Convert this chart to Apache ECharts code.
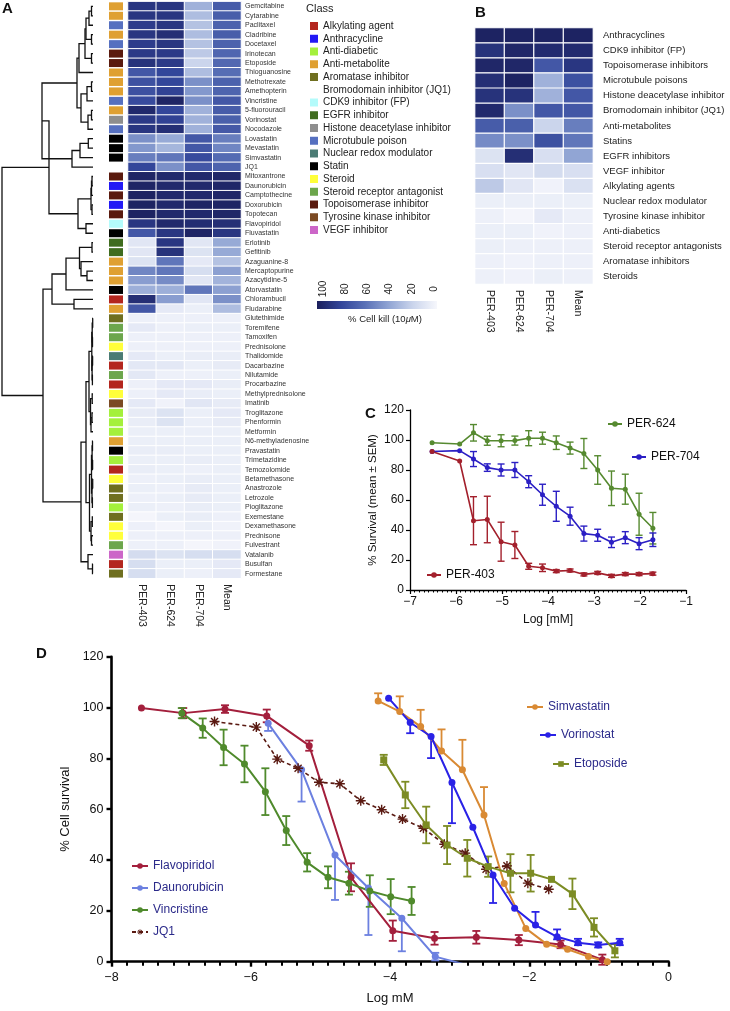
<!DOCTYPE html>
<html>
<head>
<meta charset="utf-8">
<script src="https://cdn.jsdelivr.net/npm/echarts@6/dist/echarts.min.js"></script>
<style>
html, body { margin: 0; padding: 0; background: #fff; }
#chart { width: 730px; height: 1011px; }
</style>
</head>
<body>
<div id="chart"></div>
<script>
// ---- panel A: drugs, classes, % cell kill ----
var drugs = ['Gemcitabine','Cytarabine','Paclitaxel','Cladribine','Docetaxel','Irinotecan','Etoposide','Thioguanosine',
    'Methotrexate','Amethopterin','Vincristine','5-fluorouracil','Vorinostat','Nocodazole','Lovastatin','Mevastatin',
    'Simvastatin','JQ1','Mitoxantrone','Daunorubicin','Camptothecine','Doxorubicin','Topotecan','Flavopiridol',
    'Fluvastatin','Erlotinib','Gefitinib','Azaguanine-8','Mercaptopurine','Azacytidine-5','Atorvastatin','Chlorambucil',
    'Fludarabine','Glutethimide','Toremifene','Tamoxifen','Prednisolone','Thalidomide','Dacarbazine','Nilutamide',
    'Procarbazine','Methylprednisolone','Imatinib','Troglitazone','Phenformin','Metformin','N6-methyladenosine',
    'Pravastatin','Trimetazidine','Temozolomide','Betamethasone','Anastrozole','Letrozole','Pioglitazone',
    'Exemestane','Dexamethasone','Prednisone','Fulvestrant','Vatalanib','Busulfan','Formestane'];
var classNames = ['Alkylating agent','Anthracycline','Anti-diabetic','Anti-metabolite','Aromatase inhibitor',
    'Bromodomain inhibitor (JQ1)','CDK9 inhibitor (FP)','EGFR inhibitor','Histone deacetylase inhibitor',
    'Microtubule poison','Nuclear redox modulator','Statin','Steroid','Steroid receptor antagonist',
    'Topoisomerase inhibitor','Tyrosine kinase inhibitor','VEGF inhibitor'];
var classColors = ['#b3261e','#2219f5','#a4f03c','#dfa032','#6f6f20','#ffffff','#b4fbfb','#3f6c1f','#8e8e8e',
    '#5670c0','#4b7b74','#000000','#ffff3a','#6ca64c','#5a1a0e','#7b4a23','#cc66c8'];
var drugClass = [3,3,9,3,9,14,14,3,3,3,9,3,8,9,11,11,11,5,14,1,14,1,14,6,11,7,7,3,3,3,11,0,3,
    4,13,13,12,10,0,13,0,12,15,2,2,2,3,11,2,0,12,4,4,2,4,12,12,13,16,0,4];
var colNames = ['PER-403','PER-624','PER-704','Mean'];
var killA403 = [88,88,85,88,85,86,90,72,75,75,78,95,86,88,48,45,55,80,97,97,98,98,98,88,72,10,10,12,52,43,36,92,72,
    4,8,4,4,8,9,9,4,4,8,7,6,5,5,6,5,6,4,5,4,5,1,4,4,4,16,15,15];
var killA624 = [88,88,88,92,88,86,86,80,80,82,97,80,82,92,38,33,58,48,95,95,95,95,95,95,88,88,90,58,58,50,36,43,8,
    4,4,4,4,5,9,4,8,8,3,12,12,5,5,6,5,5,5,4,5,4,5,1,4,4,12,5,5];
var killA704 = [35,30,28,30,28,25,20,30,48,45,48,35,35,35,72,72,78,72,95,95,95,97,95,93,97,10,12,8,15,10,58,10,5,
    4,5,4,4,6,5,4,8,6,10,5,5,5,5,5,6,4,6,7,7,6,6,5,4,1,15,5,4];
var killAMean = [70,69,67,69,67,65,64,62,67,66,72,70,68,71,55,52,63,66,96,96,96,97,96,92,88,38,38,28,42,34,42,48,30,
    4,5,4,4,6,7,5,6,5,7,8,7,5,5,5,5,5,5,5,5,5,4,3,4,3,15,8,8];

// dendrogram: [height, left, right], leaves are row numbers
var dendro = [91,
    [44,
        [51,
            [16,
                [14, [8, [7, [4, [1.5, 0, 1], 2], [1.5, 3, 4]], [1.5, 5, 6]], 7],
                [12, [6, [1.5, 8, 9], 10], [5, [1.5, 11, 12], 13]]],
            [21, [13, [4.7, 14, 15], 16], 17]],
        [15, [2, [1.5, [1, 18, 19], 20], [1, 21, 22]], [7, 23, 24]]],
    [50,
        [41, [27, [13.5, [1, 25, 26], [12, 27, [6, 28, 29]]], 30], [19, 31, 32]],
        [12,
            [7,
                [4, [1.2, [0.8, [0.3, 33, 34], [0.5, 35, 36]], [0.9, [0.4, 37, 38], [0.6, 39, 40]]],
                    [2.5, [0.8, 41, 42], [2, [1, 43, 44], 45]]],
                [3.5, [1.5, [0.9, [0.5, 46, 47], [0.4, 48, 49]], [1, [0.3, 50, 51], [0.6, 52, 53]]],
                    [2, [0.7, 54, 55], [1.5, 56, 57]]]],
            [5, 58, [0.5, 59, 60]]]]];

// ---- panel B ----
var groupsB = ['Anthracyclines','CDK9 inhibitor (FP)','Topoisomerase inhibitors','Microtubule poisons',
    'Histone deacetylase inhibitor','Bromodomain inhibitor (JQ1)','Anti-metabolites','Statins','EGFR inhibitors',
    'VEGF inhibitor','Alkylating agents','Nuclear redox modulator','Tyrosine kinase inhibitor','Anti-diabetics',
    'Steroid receptor antagonists','Aromatase inhibitors','Steroids'];
var killB403 = [98,90,96,92,90,95,70,50,12,14,25,5,4,5,5,4,4];
var killB624 = [98,96,96,98,90,48,68,48,92,10,10,5,1,5,4,3,3];
var killB704 = [98,94,72,35,35,72,20,75,14,16,3,5,8,3,4,4,5];
var killBMean = [98,94,88,75,72,72,55,58,40,14,13,5,4,4,4,4,4];

var colorStops = ['#f6f7fc','#cbd5ec','#91a5d4','#5a71b7','#33469a','#1b1f5c'];
var cbTicks = [100, 80, 60, 40, 20, 0];

// ---- panel C ----
var cLog = [-6.52,-5.92,-5.62,-5.32,-5.02,-4.72,-4.42,-4.12,-3.82,-3.52,-3.22,-2.92,-2.62,-2.32,-2.02,-1.72];
var c624 = [98.2,97.3,104.8,99.5,99.5,99.6,101.2,101.2,98.2,94.6,91,80,67.8,67.2,50.5,41.2];
var e624 = [0,0,5.5,3,4,3,5,4,4.5,4,10,9.5,11.5,10,14,10.5];
var c704 = [92.3,92.9,87.3,81.6,80,80,72.2,63.5,55.8,49.2,37.6,36.5,31.8,34.9,30.9,33.5];
var e704 = [0,0,5,2.5,4,5,4,7,10,6,5,4,3.5,4,4,4.5];
var c403 = [92.3,86,46.2,47,32.2,30,15.8,14.8,12.6,13,10.4,11.4,9.4,10.6,10.6,10.9];
var e403 = [0,0,16,15.5,13,9,2,2.5,1,1,1,1,1,1,1,1];

// ---- panel D ----
var flavoX = [-7.57,-6.97,-6.37,-5.77,-5.16,-4.56,-3.96,-3.36,-2.76,-2.15,-1.55,-0.95];
var flavoY = [99.8,97.8,99.4,96.7,85,33.2,12.2,9.2,9.6,8.5,6.8,0.8];
var flavoE = [0,2,1.5,2.5,2,5.5,4,2.5,2.5,2,1.5,2];
var daunoX = [-5.75,-5.27,-4.79,-4.31,-3.83,-3.35,-2.87];
var daunoY = [93.8,75.5,42,29,17.1,2,-1.5];
var daunoLo = [3,12.5,17.7,18.5,13,1.5,0];
var daunoHi = [0,0,0,0,0,1.5,0];
var vincX = [-6.99,-6.69,-6.39,-6.09,-5.79,-5.49,-5.19,-4.89,-4.59,-4.29,-3.99,-3.69];
var vincY = [97.8,91.9,84.3,77.8,66.9,51.6,39.1,33.2,30.9,27.8,25.6,23.9];
var vincE = [2,3.8,7,7.2,9.2,5.7,3.6,4.3,4.5,6.2,6.9,5.5];
var jq1X = [-6.52,-5.92,-5.62,-5.32,-5.02,-4.72,-4.42,-4.12,-3.82,-3.52,-3.22,-2.92,-2.62,-2.32,-2.02,-1.72];
var jq1Y = [94.5,92.3,79.7,76.1,70.6,70,63.3,59.8,56.1,52.5,46.2,42.7,36.4,37.7,30.9,28.5];
var simvaX = [-4.17,-3.86,-3.56,-3.26,-2.96,-2.65,-2.36,-2.05,-1.75,-1.45,-1.15,-0.88];
var simvaY = [102.6,98.4,92.5,82.9,75.5,57.7,30.8,13.1,6.9,4.9,2,0];
var simvaHi = [3,6,6.6,8.5,11.8,11,0,0,0,0,0,0];
var vorinoX = [-4.02,-3.71,-3.41,-3.11,-2.81,-2.52,-2.21,-1.91,-1.6,-1.3,-1.01,-0.7];
var vorinoY = [103.7,94.1,88.6,70.5,52.9,34.1,21,14.4,9.8,7.5,6.6,7.5];
var vorinoLo = [0,4.2,8.5,16,0,11,0,0,1,1,1,1];
var vorinoHi = [0,0,0,0,0,0,0,5.2,2.9,1.5,1,1.5];
var etoX = [-4.09,-3.78,-3.48,-3.18,-2.89,-2.59,-2.27,-1.98,-1.68,-1.38,-1.07,-0.77];
var etoY = [79.4,65.6,53.8,45.9,40.7,37.4,34.8,34.8,32.4,26.7,13.5,4.3];
var etoE = [2,5.2,7.2,7.5,7.2,4,7.5,7.2,0,6,3.6,2.6];

var FONT = 'Liberation Sans, Arial, Helvetica, sans-serif';
var ASTERISK = 'path://M-1.4,-10L1.4,-10L1.4,10L-1.4,10Z M-10,-1.4L10,-1.4L10,1.4L-10,1.4Z ' +
    'M-8.06,-6.08L-6.08,-8.06L8.06,6.08L6.08,8.06Z M6.08,-8.06L8.06,-6.08L-6.08,8.06L-8.06,6.08Z';

// dendrogram segments
var dendroLines = [];
function layoutNode(node) {
    if (typeof node === 'number') return { h: 0, y: node };
    var a = layoutNode(node[1]), b = layoutNode(node[2]);
    dendroLines.push({ coords: [[a.h, a.y], [node[0], a.y], [node[0], b.y], [b.h, b.y]] });
    return { h: node[0], y: (a.y + b.y) / 2 };
}
layoutNode(dendro);

function zip(xs, ys) {
    return xs.map(function (x, i) { return [x, ys[i]]; });
}
function errData(xs, ys, lo, hi) {
    return xs.map(function (x, i) { return [x, ys[i] - lo[i], ys[i] + hi[i], ys[i]]; });
}
function errRender(capW, lw) {
    return function (params, api) {
        var x = api.value(0), lo = api.value(1), hi = api.value(2), mid = api.value(3);
        if (hi - lo <= 0) return null;
        var pLo = api.coord([x, lo]), pHi = api.coord([x, hi]);
        var st = { stroke: api.visual('color'), lineWidth: lw };
        var kids = [{ type: 'line', shape: { x1: pLo[0], y1: pLo[1], x2: pHi[0], y2: pHi[1] }, style: st }];
        if (lo < mid) kids.push({ type: 'line', shape: { x1: pLo[0] - capW, y1: pLo[1], x2: pLo[0] + capW, y2: pLo[1] }, style: st });
        if (hi > mid) kids.push({ type: 'line', shape: { x1: pHi[0] - capW, y1: pHi[1], x2: pHi[0] + capW, y2: pHi[1] }, style: st });
        return { type: 'group', children: kids };
    };
}
function heatRows(cols, n) {
    var out = [];
    for (var i = 0; i < n; i++) {
        for (var j = 0; j < cols.length; j++) out.push([j, i, cols[j][i]]);
    }
    return out;
}
var minus = function (v) { return String(v).replace('-', '\u2212'); };

var chart = echarts.init(document.getElementById('chart'), null, { renderer: 'canvas' });

var gA = { top: 1.6, height: 576.7 };
var grids = [
    { left: 2, width: 91, top: gA.top, height: gA.height },
    { left: 109, width: 14, top: gA.top, height: gA.height },
    { left: 128, width: 113, top: gA.top, height: gA.height },
    { left: 475, width: 118, top: 28, height: 256 },
    { left: 410, width: 276, top: 410, height: 180 },
    { left: 111.5, width: 557, top: 656.7, height: 305 }
];
grids.forEach(function (g) { g.containLabel = false; g.outerBoundsMode = 'none'; });

var hidden = { show: false };
var xAxes = [
    { gridIndex: 0, type: 'value', min: 0, max: 91, inverse: true, show: false },
    { gridIndex: 1, type: 'category', data: ['c'], show: false },
    { gridIndex: 2, type: 'category', data: colNames, axisLine: hidden, axisTick: hidden,
      axisLabel: { rotate: -90, fontSize: 10.5, margin: 6, color: '#222' } },
    { gridIndex: 3, type: 'category', data: colNames, axisLine: hidden, axisTick: hidden,
      axisLabel: { rotate: -90, fontSize: 10.5, margin: 6, color: '#222' } },
    { gridIndex: 4, type: 'value', min: -7, max: -1, interval: 1, splitLine: hidden,
      axisLine: { show: true, onZero: false, lineStyle: { color: '#000', width: 1.3 } },
      axisTick: { show: true, length: 4, lineStyle: { color: '#000', width: 1.2 } },
      minorTick: { show: true, splitNumber: 10, length: 2.5, lineStyle: { color: '#000', width: 1 } },
      axisLabel: { fontSize: 12, color: '#111', margin: 6, formatter: minus },
      name: 'Log [mM]', nameLocation: 'middle', nameGap: 24, nameTextStyle: { fontSize: 12, color: '#111' } },
    { gridIndex: 5, type: 'value', min: -8, max: 0, interval: 2, splitLine: hidden,
      axisLine: { show: true, onZero: false, lineStyle: { color: '#000', width: 2.6 } },
      axisTick: { show: true, length: 5, lineStyle: { color: '#000', width: 2.4 } },
      minorTick: { show: true, splitNumber: 9, length: 4, lineStyle: { color: '#000', width: 2 } },
      axisLabel: { fontSize: 12.5, color: '#111', margin: 9, formatter: minus },
      name: 'Log mM', nameLocation: 'middle', nameGap: 30, nameTextStyle: { fontSize: 13, color: '#111' } }
];
var yAxes = [
    { gridIndex: 0, type: 'value', min: -0.5, max: 60.5, inverse: true, show: false },
    { gridIndex: 1, type: 'category', data: drugs, inverse: true, show: false },
    { gridIndex: 2, type: 'category', data: drugs, inverse: true, position: 'right', axisLine: hidden, axisTick: hidden,
      axisLabel: { fontSize: 7, margin: 4, color: '#333', interval: 0 } },
    { gridIndex: 3, type: 'category', data: groupsB, inverse: true, position: 'right', axisLine: hidden, axisTick: hidden,
      axisLabel: { fontSize: 9.5, margin: 10, color: '#222', interval: 0 } },
    { gridIndex: 4, type: 'value', min: 0, max: 120, interval: 20, splitLine: hidden,
      axisLine: { show: true, onZero: false, lineStyle: { color: '#000', width: 1.3 } },
      axisTick: { show: true, length: 4, lineStyle: { color: '#000', width: 1.2 } },
      axisLabel: { fontSize: 12, color: '#111', margin: 6 },
      name: '% Survival (mean \u00b1 SEM)', nameLocation: 'middle', nameGap: 31, nameRotate: 90,
      nameTextStyle: { fontSize: 11.5, color: '#111' } },
    { gridIndex: 5, type: 'value', min: 0, max: 120, interval: 20, splitLine: hidden,
      axisLine: { show: true, onZero: false, lineStyle: { color: '#000', width: 2.6 } },
      axisTick: { show: true, length: 5, lineStyle: { color: '#000', width: 2.4 } },
      axisLabel: { fontSize: 12.5, color: '#111', margin: 8 },
      name: '% Cell survival', nameLocation: 'middle', nameGap: 36, nameRotate: 90,
      nameTextStyle: { fontSize: 13, color: '#111' } }
];

var series = [];
series.push({
    type: 'lines', coordinateSystem: 'cartesian2d', xAxisIndex: 0, yAxisIndex: 0, polyline: true, silent: true,
    lineStyle: { color: '#111', width: 1.3, opacity: 1 }, data: dendroLines
});
classNames.forEach(function (name, k) {
    var pts = [];
    drugClass.forEach(function (c, i) { if (c === k) pts.push([0, i]); });
    series.push({
        type: 'scatter', name: name, xAxisIndex: 1, yAxisIndex: 1, symbol: 'rect', symbolSize: [14, 8],
        itemStyle: { color: classColors[k], opacity: 1 }, data: pts, silent: true
    });
});
var heatIdx = [series.length, series.length + 1];
series.push({
    type: 'heatmap', xAxisIndex: 2, yAxisIndex: 2, silent: true,
    itemStyle: { borderColor: '#fff', borderWidth: 1 },
    data: heatRows([killA403, killA624, killA704, killAMean], drugs.length)
});
series.push({
    type: 'heatmap', xAxisIndex: 3, yAxisIndex: 3, silent: true,
    itemStyle: { borderColor: '#fff', borderWidth: 1.2 },
    data: heatRows([killB403, killB624, killB704, killBMean], groupsB.length)
});

function addCurve(o) {
    series.push({
        type: 'line', name: o.name, xAxisIndex: o.axis, yAxisIndex: o.axis, data: zip(o.x, o.y),
        symbol: o.symbol || 'circle', symbolSize: o.size, z: 4,
        lineStyle: { color: o.color, width: o.width, type: o.dash ? [4, 3] : 'solid' },
        itemStyle: { color: o.color }
    });
    if (o.lo) {
        series.push({
            type: 'custom', name: o.name + ' SEM', xAxisIndex: o.axis, yAxisIndex: o.axis, z: 3, silent: true,
            itemStyle: { color: o.color }, encode: { x: 0, y: [1, 2] },
            renderItem: errRender(o.cap, o.ew), data: errData(o.x, o.y, o.lo, o.hi)
        });
    }
}
addCurve({ name: 'PER-624', axis: 4, x: cLog, y: c624, lo: e624, hi: e624, color: '#568a30', width: 1.6, size: 5, cap: 3.5, ew: 1.4 });
addCurve({ name: 'PER-704', axis: 4, x: cLog, y: c704, lo: e704, hi: e704, color: '#2b1fc4', width: 1.6, size: 5, cap: 3.5, ew: 1.4 });
addCurve({ name: 'PER-403', axis: 4, x: cLog, y: c403, lo: e403, hi: e403, color: '#a3202c', width: 1.6, size: 5, cap: 3.5, ew: 1.4 });

addCurve({ name: 'Flavopiridol', axis: 5, x: flavoX, y: flavoY, lo: flavoE, hi: flavoE, color: '#a31f3c', width: 2, size: 7, cap: 4, ew: 1.8 });
addCurve({ name: 'Daunorubicin', axis: 5, x: daunoX, y: daunoY, lo: daunoLo, hi: daunoHi, color: '#6c80e0', width: 2, size: 7, cap: 4, ew: 1.8 });
addCurve({ name: 'Vincristine', axis: 5, x: vincX, y: vincY, lo: vincE, hi: vincE, color: '#4f8a2c', width: 2, size: 7, cap: 4, ew: 1.8 });
addCurve({ name: 'JQ1', axis: 5, x: jq1X, y: jq1Y, color: '#5a1a12', width: 1.6, size: 10, symbol: ASTERISK, dash: true });
addCurve({ name: 'Simvastatin', axis: 5, x: simvaX, y: simvaY, lo: simvaX.map(function () { return 0; }), hi: simvaHi, color: '#d98a34', width: 2, size: 7, cap: 4, ew: 1.8 });
addCurve({ name: 'Vorinostat', axis: 5, x: vorinoX, y: vorinoY, lo: vorinoLo, hi: vorinoHi, color: '#2a22e6', width: 2, size: 7, cap: 4, ew: 1.8 });
addCurve({ name: 'Etoposide', axis: 5, x: etoX, y: etoY, lo: etoE, hi: etoE, color: '#7c8c24', width: 2, size: 7, cap: 4, ew: 1.8, symbol: 'rect' });

function oneLegend(names, left, top, color, size, w) {
    return {
        data: names, left: left, top: top, orient: 'vertical', selectedMode: false,
        itemWidth: w, itemHeight: 7, itemGap: 8, padding: 0,
        textStyle: { fontSize: size, color: color, lineHeight: 14, fontFamily: FONT }
    };
}
var legends = [
    {
        data: classNames, left: 310, top: 20, orient: 'vertical', selectedMode: false, icon: 'rect',
        itemWidth: 8, itemHeight: 8, itemGap: 0.75, padding: 0,
        textStyle: { fontSize: 10, color: '#222', lineHeight: 12, fontFamily: FONT }
    },
    oneLegend(['PER-624'], 607, 417, '#111', 12, 14),
    oneLegend(['PER-704'], 631, 450, '#111', 12, 14),
    oneLegend(['PER-403'], 426, 568, '#111', 12, 14),
    oneLegend(['Flavopiridol', 'Daunorubicin', 'Vincristine', 'JQ1'], 131, 859, '#2b2a8a', 12, 16),
    oneLegend(['Simvastatin'], 526, 700, '#2b2a8a', 12, 16),
    oneLegend(['Vorinostat'], 539, 728, '#2b2a8a', 12, 16),
    oneLegend(['Etoposide'], 552, 757, '#2b2a8a', 12, 16)
];

var graphics = [];
[['A', 2, 1], ['B', 475, 5], ['C', 365, 406], ['D', 36, 646]].forEach(function (p) {
    graphics.push({ type: 'text', x: p[1], y: p[2], style: { text: p[0], fontSize: 15, fontWeight: 'bold', fill: '#111', fontFamily: FONT } });
});
graphics.push({ type: 'text', x: 306, y: 3, style: { text: 'Class', fontSize: 11, fill: '#222', fontFamily: FONT } });
graphics.push({
    type: 'rect', shape: { x: 317, y: 301, width: 120, height: 8 },
    style: { fill: new echarts.graphic.LinearGradient(0, 0, 1, 0, colorStops.slice().reverse().map(function (c, i, a) {
        return { offset: i / (a.length - 1), color: c };
    })) }
});
cbTicks.forEach(function (v) {
    graphics.push({
        type: 'text', x: 323 + (100 - v) * 1.11, y: 289, rotation: Math.PI / 2,
        style: { text: String(v), fontSize: 10, fill: '#222', align: 'center', verticalAlign: 'middle', fontFamily: FONT }
    });
});
graphics.push({
    type: 'text', x: 385, y: 319,
    style: { text: '% Cell kill (10{i|\u03bc}M)', fontSize: 9.5, fill: '#222', align: 'center', verticalAlign: 'middle',
        fontFamily: FONT, rich: { i: { fontStyle: 'italic', fontSize: 9.5, fontFamily: FONT } } }
});

chart.setOption({
    animation: false,
    backgroundColor: '#fff',
    textStyle: { fontFamily: FONT },
    grid: grids,
    xAxis: xAxes,
    yAxis: yAxes,
    visualMap: {
        show: false, type: 'continuous', min: 0, max: 100, seriesIndex: heatIdx,
        inRange: { color: colorStops }
    },
    legend: legends,
    graphic: graphics,
    series: series
});
</script>
</body>
</html>
